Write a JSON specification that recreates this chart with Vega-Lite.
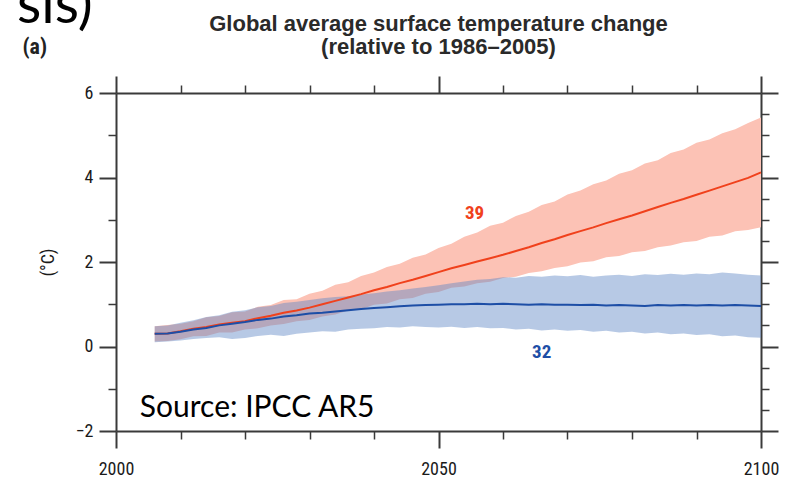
{
  "$schema": "https://vega.github.io/schema/vega-lite/v6.json",
  "width": 645,
  "height": 338,
  "autosize": {"type": "none"},
  "padding": {"left": 116, "top": 93, "right": 33, "bottom": 47},
  "background": "white",
  "config": {
    "view": {"stroke": null},
    "axis": {
      "grid": false,
      "domainColor": "#3a3a3a",
      "domainWidth": 2,
      "tickColor": "#3a3a3a",
      "labelColor": "#1a1a1a",
      "labelFont": "Liberation Sans Narrow, Roboto Condensed, DejaVu Sans Condensed, sans-serif",
      "labelFontSize": 18,
      "labelFlush": false,
      "labelOverlap": false,
      "zindex": 1
    }
  },
  "title": {
    "text": ["Global average surface temperature change", "(relative to 1986–2005)"],
    "font": "Liberation Sans, Arial, sans-serif",
    "fontSize": 22,
    "fontWeight": "bold",
    "color": "#2a2a2a",
    "lineHeight": 23,
    "anchor": "middle",
    "offset": -81
  },
  "datasets": {
    "rcp85": [
      {"year": 2006, "mean": 0.30, "lo": 0.12, "hi": 0.48},
      {"year": 2008, "mean": 0.31, "lo": 0.13, "hi": 0.51},
      {"year": 2010, "mean": 0.36, "lo": 0.17, "hi": 0.54},
      {"year": 2012, "mean": 0.42, "lo": 0.24, "hi": 0.60},
      {"year": 2014, "mean": 0.46, "lo": 0.25, "hi": 0.69},
      {"year": 2016, "mean": 0.52, "lo": 0.33, "hi": 0.72},
      {"year": 2018, "mean": 0.56, "lo": 0.33, "hi": 0.81},
      {"year": 2020, "mean": 0.60, "lo": 0.40, "hi": 0.83},
      {"year": 2022, "mean": 0.67, "lo": 0.43, "hi": 0.94},
      {"year": 2024, "mean": 0.73, "lo": 0.50, "hi": 0.98},
      {"year": 2026, "mean": 0.80, "lo": 0.53, "hi": 1.10},
      {"year": 2028, "mean": 0.85, "lo": 0.60, "hi": 1.12},
      {"year": 2030, "mean": 0.92, "lo": 0.63, "hi": 1.25},
      {"year": 2032, "mean": 1.00, "lo": 0.71, "hi": 1.32},
      {"year": 2034, "mean": 1.08, "lo": 0.76, "hi": 1.46},
      {"year": 2036, "mean": 1.16, "lo": 0.85, "hi": 1.52},
      {"year": 2038, "mean": 1.24, "lo": 0.88, "hi": 1.67},
      {"year": 2040, "mean": 1.33, "lo": 0.99, "hi": 1.75},
      {"year": 2042, "mean": 1.41, "lo": 1.02, "hi": 1.88},
      {"year": 2044, "mean": 1.50, "lo": 1.12, "hi": 1.96},
      {"year": 2046, "mean": 1.58, "lo": 1.15, "hi": 2.10},
      {"year": 2048, "mean": 1.67, "lo": 1.25, "hi": 2.18},
      {"year": 2050, "mean": 1.76, "lo": 1.29, "hi": 2.33},
      {"year": 2052, "mean": 1.85, "lo": 1.39, "hi": 2.43},
      {"year": 2054, "mean": 1.93, "lo": 1.42, "hi": 2.60},
      {"year": 2056, "mean": 2.01, "lo": 1.50, "hi": 2.70},
      {"year": 2058, "mean": 2.09, "lo": 1.53, "hi": 2.86},
      {"year": 2060, "mean": 2.17, "lo": 1.62, "hi": 2.93},
      {"year": 2062, "mean": 2.26, "lo": 1.65, "hi": 3.09},
      {"year": 2064, "mean": 2.35, "lo": 1.74, "hi": 3.19},
      {"year": 2066, "mean": 2.45, "lo": 1.78, "hi": 3.35},
      {"year": 2068, "mean": 2.54, "lo": 1.86, "hi": 3.43},
      {"year": 2070, "mean": 2.64, "lo": 1.90, "hi": 3.60},
      {"year": 2072, "mean": 2.73, "lo": 1.99, "hi": 3.69},
      {"year": 2074, "mean": 2.82, "lo": 2.02, "hi": 3.84},
      {"year": 2076, "mean": 2.92, "lo": 2.11, "hi": 3.93},
      {"year": 2078, "mean": 3.01, "lo": 2.14, "hi": 4.09},
      {"year": 2080, "mean": 3.10, "lo": 2.23, "hi": 4.17},
      {"year": 2082, "mean": 3.20, "lo": 2.26, "hi": 4.33},
      {"year": 2084, "mean": 3.30, "lo": 2.35, "hi": 4.41},
      {"year": 2086, "mean": 3.40, "lo": 2.39, "hi": 4.58},
      {"year": 2088, "mean": 3.49, "lo": 2.47, "hi": 4.66},
      {"year": 2090, "mean": 3.59, "lo": 2.50, "hi": 4.82},
      {"year": 2092, "mean": 3.69, "lo": 2.60, "hi": 4.90},
      {"year": 2094, "mean": 3.79, "lo": 2.63, "hi": 5.05},
      {"year": 2096, "mean": 3.89, "lo": 2.73, "hi": 5.14},
      {"year": 2098, "mean": 3.99, "lo": 2.76, "hi": 5.29},
      {"year": 2100, "mean": 4.12, "lo": 2.82, "hi": 5.42}
    ],
    "rcp26": [
      {"year": 2006, "mean": 0.30, "lo": 0.10, "hi": 0.48},
      {"year": 2008, "mean": 0.31, "lo": 0.12, "hi": 0.50},
      {"year": 2010, "mean": 0.35, "lo": 0.14, "hi": 0.56},
      {"year": 2012, "mean": 0.40, "lo": 0.18, "hi": 0.62},
      {"year": 2014, "mean": 0.44, "lo": 0.20, "hi": 0.70},
      {"year": 2016, "mean": 0.50, "lo": 0.22, "hi": 0.74},
      {"year": 2018, "mean": 0.54, "lo": 0.18, "hi": 0.82},
      {"year": 2020, "mean": 0.58, "lo": 0.20, "hi": 0.86},
      {"year": 2022, "mean": 0.63, "lo": 0.25, "hi": 0.93},
      {"year": 2024, "mean": 0.66, "lo": 0.28, "hi": 0.96},
      {"year": 2026, "mean": 0.71, "lo": 0.25, "hi": 1.03},
      {"year": 2028, "mean": 0.74, "lo": 0.30, "hi": 1.06},
      {"year": 2030, "mean": 0.78, "lo": 0.33, "hi": 1.10},
      {"year": 2032, "mean": 0.80, "lo": 0.36, "hi": 1.14},
      {"year": 2034, "mean": 0.83, "lo": 0.35, "hi": 1.17},
      {"year": 2036, "mean": 0.86, "lo": 0.40, "hi": 1.19},
      {"year": 2038, "mean": 0.89, "lo": 0.42, "hi": 1.23},
      {"year": 2040, "mean": 0.91, "lo": 0.43, "hi": 1.26},
      {"year": 2042, "mean": 0.93, "lo": 0.46, "hi": 1.30},
      {"year": 2044, "mean": 0.95, "lo": 0.45, "hi": 1.33},
      {"year": 2046, "mean": 0.97, "lo": 0.48, "hi": 1.37},
      {"year": 2048, "mean": 0.98, "lo": 0.46, "hi": 1.41},
      {"year": 2050, "mean": 0.99, "lo": 0.45, "hi": 1.45},
      {"year": 2052, "mean": 1.00, "lo": 0.47, "hi": 1.50},
      {"year": 2054, "mean": 1.00, "lo": 0.44, "hi": 1.54},
      {"year": 2056, "mean": 1.01, "lo": 0.46, "hi": 1.58},
      {"year": 2058, "mean": 1.00, "lo": 0.43, "hi": 1.60},
      {"year": 2060, "mean": 1.01, "lo": 0.44, "hi": 1.64},
      {"year": 2062, "mean": 1.00, "lo": 0.40, "hi": 1.63},
      {"year": 2064, "mean": 0.99, "lo": 0.42, "hi": 1.67},
      {"year": 2066, "mean": 1.00, "lo": 0.38, "hi": 1.65},
      {"year": 2068, "mean": 0.99, "lo": 0.40, "hi": 1.68},
      {"year": 2070, "mean": 0.99, "lo": 0.37, "hi": 1.66},
      {"year": 2072, "mean": 0.98, "lo": 0.39, "hi": 1.69},
      {"year": 2074, "mean": 0.99, "lo": 0.35, "hi": 1.65},
      {"year": 2076, "mean": 0.97, "lo": 0.37, "hi": 1.68},
      {"year": 2078, "mean": 0.98, "lo": 0.33, "hi": 1.70},
      {"year": 2080, "mean": 0.97, "lo": 0.35, "hi": 1.67},
      {"year": 2082, "mean": 0.96, "lo": 0.31, "hi": 1.71},
      {"year": 2084, "mean": 0.98, "lo": 0.33, "hi": 1.69},
      {"year": 2086, "mean": 0.97, "lo": 0.29, "hi": 1.72},
      {"year": 2088, "mean": 0.98, "lo": 0.31, "hi": 1.70},
      {"year": 2090, "mean": 0.97, "lo": 0.27, "hi": 1.73},
      {"year": 2092, "mean": 0.98, "lo": 0.29, "hi": 1.71},
      {"year": 2094, "mean": 0.97, "lo": 0.24, "hi": 1.75},
      {"year": 2096, "mean": 0.98, "lo": 0.26, "hi": 1.73},
      {"year": 2098, "mean": 0.97, "lo": 0.22, "hi": 1.70},
      {"year": 2100, "mean": 0.96, "lo": 0.21, "hi": 1.68}
    ],
    "counts": [
      {"year": 2055.6, "value": 3.16, "text": "39", "series": "RCP8.5"},
      {"year": 2066.0, "value": -0.12, "text": "32", "series": "RCP2.6"}
    ],
    "source": [{"year": 2003.7, "value": -1.45, "text": "Source: IPCC AR5"}],
    "heading": [{"year": 1996.4, "value": 7.66, "text": "sis)"}],
    "panel": [{"year": 1987.4, "value": 6.93, "text": "(a)"}]
  },
  "resolve": {"axis": {"x": "independent", "y": "independent"}},
  "layer": [
    {
      "data": {"name": "rcp85"},
      "mark": {"type": "area", "color": "#fcc2b5", "opacity": 1},
      "encoding": {
        "x": {
          "field": "year", "type": "quantitative",
          "scale": {"domain": [2000, 2100], "nice": false, "zero": false},
          "axis": {
            "orient": "bottom",
            "values": [2000, 2010, 2020, 2030, 2040, 2050, 2060, 2070, 2080, 2090, 2100],
            "format": "d",
            "labelExpr": "datum.value % 50 === 0 ? datum.label : ''",
            "tickSize": {"condition": {"test": "datum.value % 50 === 0", "value": 17}, "value": 8},
            "tickWidth": {"condition": {"test": "datum.value % 50 === 0", "value": 2}, "value": 1.5},
            "labelPadding": 12,
            "title": null
          }
        },
        "y": {
          "field": "lo", "type": "quantitative",
          "scale": {"domain": [-2, 6], "nice": false, "zero": false},
          "axis": {
            "orient": "left",
            "values": [-2, -1.5, -1, -0.5, 0, 0.5, 1, 1.5, 2, 2.5, 3, 3.5, 4, 4.5, 5, 5.5, 6],
            "format": "d",
            "labelExpr": "datum.value % 2 === 0 ? datum.label : ''",
            "tickSize": {"condition": {"test": "datum.value % 2 === 0", "value": 17}, "value": 8},
            "tickWidth": {"condition": {"test": "datum.value % 2 === 0", "value": 2}, "value": 1.5},
            "labelPadding": 6,
            "title": "(°C)",
            "titleX": -68,
            "titleY": 169,
            "titleAngle": -90,
            "titleAlign": "center",
            "titleBaseline": "middle",
            "titleFont": "Liberation Sans Narrow, Roboto Condensed, DejaVu Sans Condensed, sans-serif",
            "titleFontSize": 18,
            "titleFontWeight": "normal",
            "titleColor": "#1a1a1a"
          }
        },
        "y2": {"field": "hi"}
      }
    },
    {
      "data": {"name": "rcp26"},
      "mark": {"type": "area", "color": "#5f87c5", "opacity": 0.45},
      "encoding": {
        "x": {"field": "year", "type": "quantitative", "axis": null},
        "y": {"field": "lo", "type": "quantitative", "axis": null},
        "y2": {"field": "hi"}
      }
    },
    {
      "data": {"name": "rcp85"},
      "mark": {"type": "line", "color": "#f0411c", "strokeWidth": 2},
      "encoding": {
        "x": {
          "field": "year", "type": "quantitative",
          "axis": {
            "orient": "top",
            "values": [2000, 2010, 2020, 2030, 2040, 2050, 2060, 2070, 2080, 2090, 2100],
            "labels": false,
            "tickSize": {"condition": {"test": "datum.value % 50 === 0", "value": 17}, "value": 8},
            "tickWidth": {"condition": {"test": "datum.value % 50 === 0", "value": 2}, "value": 1.5},
            "title": null
          }
        },
        "y": {
          "field": "mean", "type": "quantitative",
          "axis": {
            "orient": "right",
            "values": [-2, -1.5, -1, -0.5, 0, 0.5, 1, 1.5, 2, 2.5, 3, 3.5, 4, 4.5, 5, 5.5, 6],
            "labels": false,
            "tickSize": {"condition": {"test": "datum.value % 2 === 0", "value": 17}, "value": 8},
            "tickWidth": {"condition": {"test": "datum.value % 2 === 0", "value": 2}, "value": 1.5},
            "title": null
          }
        }
      }
    },
    {
      "data": {"name": "rcp26"},
      "mark": {"type": "line", "color": "#1d4ea6", "strokeWidth": 2},
      "encoding": {
        "x": {"field": "year", "type": "quantitative", "axis": null},
        "y": {"field": "mean", "type": "quantitative", "axis": null}
      }
    },
    {
      "data": {"name": "counts"},
      "mark": {"type": "text", "font": "Liberation Sans Narrow, Roboto Condensed, DejaVu Sans Condensed, sans-serif", "fontSize": 19, "fontWeight": "bold", "align": "center", "baseline": "middle"},
      "encoding": {
        "x": {"field": "year", "type": "quantitative", "axis": null},
        "y": {"field": "value", "type": "quantitative", "axis": null},
        "text": {"field": "text"},
        "color": {"field": "series", "type": "nominal", "scale": {"domain": ["RCP8.5", "RCP2.6"], "range": ["#f0411c", "#1d4ea6"]}, "legend": null}
      }
    },
    {
      "data": {"name": "source"},
      "mark": {"type": "text", "font": "Lato, Open Sans, sans-serif", "fontSize": 30, "align": "left", "baseline": "middle", "color": "#000000"},
      "encoding": {
        "x": {"field": "year", "type": "quantitative", "axis": null},
        "y": {"field": "value", "type": "quantitative", "axis": null},
        "text": {"field": "text"}
      }
    },
    {
      "data": {"name": "heading"},
      "mark": {"type": "text", "font": "Lato, Open Sans, sans-serif", "fontSize": 56, "align": "right", "baseline": "alphabetic", "color": "#000000"},
      "encoding": {
        "x": {"field": "year", "type": "quantitative", "axis": null},
        "y": {"field": "value", "type": "quantitative", "axis": null},
        "text": {"field": "text"}
      }
    },
    {
      "data": {"name": "panel"},
      "mark": {"type": "text", "font": "Liberation Sans Narrow, Roboto Condensed, DejaVu Sans Condensed, sans-serif", "fontSize": 22, "fontWeight": "bold", "align": "center", "baseline": "alphabetic", "color": "#222222"},
      "encoding": {
        "x": {"field": "year", "type": "quantitative", "axis": null},
        "y": {"field": "value", "type": "quantitative", "axis": null},
        "text": {"field": "text"}
      }
    }
  ]
}
